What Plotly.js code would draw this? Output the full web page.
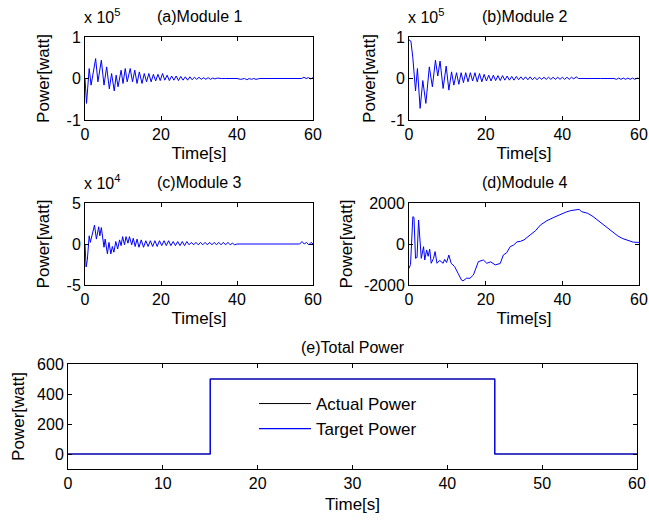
<!DOCTYPE html>
<html>
<head>
<meta charset="utf-8">
<script src="https://cdn.plot.ly/plotly-3.0.1.min.js"></script>
<style>html,body{margin:0;padding:0;background:#fff;}#chart{width:649px;height:520px;}</style>
</head>
<body>
<div id="chart"></div>
<script>
// Module 1 (x 10^5 W)
const a_t = [0,0.4,1.1,1.6,2.8,3.4,4.3,5.0,5.7,6.4,7.0,7.7,8.2,8.7,9.5,10.0,10.6,11.1,11.9,12.5,13.1,13.7,14.3,15.0,15.6,16.2,16.8,17.4,18.0,18.6,19.2,19.8,20.4,21.0,21.6,22.2,22.8,23.4,24.0,24.6,25.2,25.8,26.4,27.0,27.6,28.2,28.8,29.4,30.0,30.6,31.2,31.8,32.4,33.0,33.6,34.2,34.8,35.4,36,37,38,39,40,41,42,42.6,43.2,43.8,44.4,45,46,50,56,57,57.6,58.2,58.8,59.4,60];
const a_v = [0,-0.6,0.24,-0.16,0.48,-0.08,0.44,-0.16,0.28,-0.25,0.12,-0.3,0.08,-0.2,0.2,-0.12,0.24,-0.08,0.24,-0.08,0.2,-0.12,0.16,-0.12,0.12,-0.08,0.12,-0.08,0.1,-0.06,0.1,-0.05,0.12,-0.04,0.08,-0.05,0.06,-0.04,0.06,-0.05,0.05,-0.04,0.04,-0.04,0.04,-0.03,0.03,-0.02,0.03,-0.02,0.02,-0.02,0.02,-0.02,0.01,-0.01,0.01,0,0,0,0,0,0,-0.02,0,-0.03,0,-0.02,0,-0.02,0,0,0,0,0.03,0,0.02,-0.01,0.02];
// Module 2 (x 10^5 W)
const b_t = [0,0.5,1.0,1.7,2.2,2.9,3.6,4.4,5.3,6.1,6.9,7.5,8.1,8.9,9.7,10.4,11.1,11.7,12.4,13.0,13.6,14.2,14.8,15.4,16.0,16.6,17.2,17.8,18.4,19.0,19.6,20.2,20.8,21.4,22.0,22.6,23.2,23.8,24.4,25.0,25.6,26.2,26.8,27.4,28.0,28.6,29.2,29.8,30.4,31.0,31.6,32.2,32.8,33.4,34.0,34.6,35.2,35.8,36.4,37.0,37.6,38.2,38.8,39.4,40.0,40.6,41.2,41.8,42.4,43.0,43.6,44.2,50,53.5,54.1,54.7,55.3,55.9,56.5,57.1,57.7,58.3,58.9,59.5,60];
const b_v = [0.93,0.9,0.5,-0.3,0.24,-0.72,-0.05,-0.6,0.28,-0.2,0.44,0.06,0.42,-0.24,0.3,-0.28,0.16,-0.16,0.14,-0.14,0.14,-0.1,0.14,-0.08,0.14,-0.06,0.14,-0.08,0.12,-0.08,0.1,-0.06,0.08,-0.06,0.08,-0.05,0.07,-0.05,0.07,-0.04,0.06,-0.04,0.05,-0.04,0.05,-0.03,0.04,-0.03,0.04,-0.03,0.04,-0.03,0.03,-0.03,0.03,-0.02,0.03,-0.02,0.03,-0.02,0.03,-0.02,0.03,-0.02,0.03,-0.02,0.03,-0.02,0.03,-0.01,0.04,0,0,0,-0.02,0.01,-0.02,0.01,-0.02,0.01,-0.02,0.01,-0.02,0.01,0];
// Module 3 (x 10^4 W)
const c_t = [0,0.3,0.6,1.1,1.4,1.8,2.5,3.0,3.6,3.9,4.3,5.0,5.3,5.9,6.3,6.8,7.2,7.6,8.1,8.6,9.1,9.5,9.9,10.4,10.8,11.3,11.7,12.3,12.7,13.2,13.7,14.2,14.8,15.4,16.0,16.6,17.2,17.8,18.4,19.0,19.6,20.2,20.8,21.4,22.0,22.6,23.2,23.8,24.4,25.0,25.6,26.2,26.8,27.4,28.0,28.6,29.2,29.8,30.4,31.0,31.6,32.2,32.8,33.4,34.0,34.6,35.2,35.8,36.4,37.0,37.6,38.2,38.8,39.4,40,50,56.5,57.1,57.7,58.3,58.9,59.5,60];
const c_v = [0,-2.8,-2.0,1.0,0.2,1.0,2.3,0.6,2.1,1.0,2.0,-0.4,0.6,-1.2,0.2,-1.2,-0.3,-1.0,0.3,-0.6,0.5,-0.2,0.9,-0.1,0.9,0.1,0.9,-0.1,0.7,-0.3,0.6,-0.4,0.5,-0.4,0.4,-0.3,0.4,-0.3,0.4,-0.3,0.4,-0.2,0.4,-0.2,0.4,-0.2,0.3,-0.2,0.3,-0.2,0.3,-0.2,0.3,-0.1,0.2,-0.1,0.2,-0.1,0.2,-0.1,0.2,-0.1,0.2,-0.1,0.2,-0.1,0.2,-0.1,0.2,-0.1,0.2,-0.1,0.1,-0.1,0,0,0,0.3,0,0.2,-0.1,0.2,0];
// Module 4 (W)
const d_t = [0,0.4,1.0,1.3,1.7,2.1,2.5,2.9,3.2,3.8,4.1,4.6,5.0,5.4,5.8,6.4,6.8,7.3,8.0,8.9,9.3,9.8,10.4,11.0,11.9,12.8,13.7,14.1,15.0,15.9,16.8,18.1,19.4,20.3,21.3,22.5,23.8,24.6,25.5,26.4,27.3,28.2,29.1,30.0,31.7,33.0,34.3,36.0,37.8,39.6,41.0,42.2,43.4,44.4,45.0,46.6,48.0,49.2,50.5,51.8,53.2,54.5,55.8,57.1,58.5,59.8,60];
const d_v = [-1190,-1000,1330,1300,-700,-650,1170,-290,-700,-130,-780,-290,-600,-250,-940,-700,-370,-940,-800,-940,-750,-900,-540,-940,-1100,-1430,-1760,-1800,-1670,-1670,-1510,-860,-780,-940,-870,-1020,-950,-540,-420,-130,-50,110,130,200,440,650,930,1140,1300,1460,1560,1630,1660,1690,1580,1500,1340,1170,1000,810,600,390,260,160,90,80,70];
// Total power (W)
const e_t = [0,15,15,45,45,60];
const actual_v = [0,0,500,500,0,0];
const target_v = [0,0,500,500,0,0];

const titles = ["(a)Module 1","(b)Module 2","(c)Module 3","(d)Module 4","(e)Total Power"];
const yTicks = {
  a: [-1,0,1], b: [-1,0,1], c: [-5,0,5], d: [-2000,0,2000], e: [0,200,400,600]
};
const xTicks = { small: [0,20,40,60], big: [0,10,20,30,40,50,60] };
const legendNames = ["Actual Power","Target Power"];

const W = 649, H = 520;
const FONT = "Liberation Sans, Arial, sans-serif";
// pixel boxes [left, right, top, bottom]
const boxes = [[85,313,37,120],[409,639,37,120],[85,313,203,285],[409,639,203,285],[68,637,364,469]];
function dom(b){ return {x:[b[0]/W, b[1]/W], y:[1-b[3]/H, 1-b[2]/H]}; }

function xax(i, ticks, anchor, standoff){
  const d = dom(boxes[i]);
  return {domain:d.x, anchor:anchor, range:[0,60], tickvals:ticks, ticktext:ticks.map(String),
    showline:true, mirror:'ticks', ticks:'inside', ticklen:4, tickcolor:'#000', linecolor:'#000', linewidth:1,
    showgrid:false, zeroline:false, tickfont:{size:16,color:'#000',family:FONT},
    title:{text:'Time[s]', font:{size:17,color:'#000',family:FONT}, standoff:standoff}, automargin:false, fixedrange:true};
}
function yax(i, ticks, range, anchor, standoff){
  const d = dom(boxes[i]);
  return {domain:d.y, anchor:anchor, range:range, tickvals:ticks, ticktext:ticks.map(String),
    showline:true, mirror:'ticks', ticks:'inside', ticklen:4, tickcolor:'#000', linecolor:'#000', linewidth:1,
    showgrid:false, zeroline:false, tickfont:{size:16,color:'#000',family:FONT},
    title:{text:'Power[watt]', font:{size:17,color:'#000',family:FONT}, standoff:standoff}, automargin:false, fixedrange:true};
}

const blue = '#0000ff';
const traces = [
  {x:a_t, y:a_v, xaxis:'x', yaxis:'y', mode:'lines', line:{color:blue,width:1}, showlegend:false},
  {x:b_t, y:b_v, xaxis:'x2', yaxis:'y2', mode:'lines', line:{color:blue,width:1}, showlegend:false},
  {x:c_t, y:c_v, xaxis:'x3', yaxis:'y3', mode:'lines', line:{color:blue,width:1}, showlegend:false},
  {x:d_t, y:d_v, xaxis:'x4', yaxis:'y4', mode:'lines', line:{color:blue,width:1}, showlegend:false},
  {x:e_t, y:actual_v, xaxis:'x5', yaxis:'y5', mode:'lines', line:{color:'#000',width:1}, name:legendNames[0]},
  {x:e_t, y:target_v, xaxis:'x5', yaxis:'y5', mode:'lines', line:{color:blue,width:1.2}, name:legendNames[1]}
];

function titleAnn(i, ypx){
  const b = boxes[i];
  return {text:titles[i], xref:'paper', yref:'paper', x:((b[0]+b[1])/2)/W, y:1-ypx/H,
    xanchor:'center', yanchor:'middle', showarrow:false, font:{size:16,color:'#000',family:FONT}};
}
function expAnn(i, exp, ypx){
  const b = boxes[i];
  return {text:'x 10<sup>'+exp+'</sup>', xref:'paper', yref:'paper', x:(b[0]-3)/W, y:1-ypx/H,
    xanchor:'left', yanchor:'bottom', showarrow:false, font:{size:16,color:'#000',family:FONT}};
}

const layout = {
  width:W, height:H, margin:{l:0,r:0,t:0,b:0}, paper_bgcolor:'#fff', plot_bgcolor:'#fff',
  font:{family:FONT,color:'#000'},
  xaxis: xax(0, xTicks.small, 'y', 4), yaxis: yax(0, yTicks.a, [-1,1], 'x', 12),
  xaxis2: xax(1, xTicks.small, 'y2', 4), yaxis2: yax(1, yTicks.b, [-1,1], 'x2', 10),
  xaxis3: xax(2, xTicks.small, 'y3', 4), yaxis3: yax(2, yTicks.c, [-5,5], 'x3', 12),
  xaxis4: xax(3, xTicks.small, 'y4', 4), yaxis4: yax(3, yTicks.d, [-2000,2000], 'x4', 6),
  xaxis5: xax(4, xTicks.big, 'y5', 6), yaxis5: yax(4, yTicks.e, [-100,600], 'x5', 8),
  showlegend:true,
  legend:{x:254/W, y:1-386/H, xanchor:'left', yanchor:'top', bgcolor:'rgba(255,255,255,0)', borderwidth:0,
    font:{size:17,color:'#000',family:FONT}, tracegroupgap:0, itemwidth:52},
  annotations:[
    titleAnn(0,17), titleAnn(1,17), titleAnn(2,182), titleAnn(3,182), titleAnn(4,347),
    expAnn(0,5,28), expAnn(1,5,28), expAnn(2,4,194)
  ]
};
Plotly.newPlot('chart', traces, layout, {staticPlot:true, displayModeBar:false});
</script>
</body>
</html>
